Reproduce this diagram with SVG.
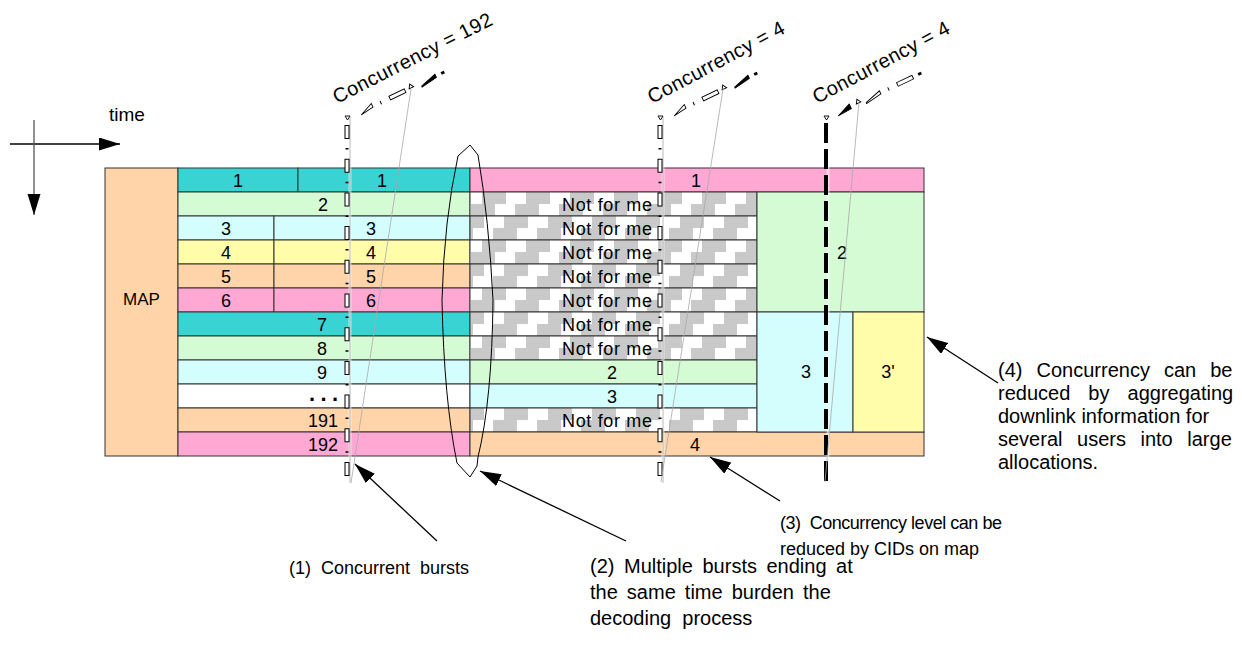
<svg xmlns="http://www.w3.org/2000/svg" width="1242" height="658" viewBox="0 0 1242 658">
<style>
text{font-family:"Liberation Sans",Arial,sans-serif;fill:#000}
.b{stroke:#333;stroke-width:1}
.cy{fill:#38D4D4}.gr{fill:#D5FBD5}.lc{fill:#D4FEFE}.ye{fill:#FFFCAA}.pe{fill:#FFD4A8}.pk{fill:#FFA8D4}.wh{fill:#fff}.ht{fill:url(#hatch)}
.n{font-size:18px;text-anchor:middle}
.nfm{font-size:18px;text-anchor:end}
.conc{font-size:20px}
.ann{font-size:18px}
.thin{stroke:#a8a8a8;stroke-width:0.8;fill:none}
.arr{stroke:#000;stroke-width:1.3;fill:none;marker-end:url(#ah)}
.hol{fill:#fff;stroke:#000;stroke-width:0.9}
.fil{fill:#000;stroke:#000;stroke-width:0.9}
</style>
<defs>
<pattern id="hatch" patternUnits="userSpaceOnUse" x="470" y="192" width="44" height="48">
<rect width="44" height="48" fill="#fff"/>
<rect x="12" y="0" width="24" height="12" fill="#C9C9C9"/>
<rect x="1" y="12" width="24" height="12" fill="#C9C9C9"/>
<rect x="34" y="24" width="10" height="12" fill="#C9C9C9"/>
<rect x="0" y="24" width="14" height="12" fill="#C9C9C9"/>
<rect x="23" y="36" width="21" height="12" fill="#C9C9C9"/>
<rect x="0" y="36" width="3" height="12" fill="#C9C9C9"/>
</pattern>
<marker id="ah" markerUnits="userSpaceOnUse" markerWidth="22" markerHeight="14" refX="21" refY="6.5" orient="auto">
<path d="M0,0 L21,6.5 L0,13 Z" fill="#000"/>
</marker>
<g id="vdec">
<line x1="350" y1="117" x2="350" y2="483" stroke="#fff" stroke-width="3" opacity="0.55"/>
<line x1="350" y1="117" x2="350" y2="483" class="thin"/>
<line x1="347" y1="125" x2="347" y2="480" stroke="#000" stroke-width="5" stroke-dasharray="14 19.7"/>
<line x1="347" y1="125" x2="347" y2="480" stroke="#fff" stroke-width="3" stroke-dasharray="12 21.7" stroke-dashoffset="-1"/>
<line x1="347" y1="125" x2="347" y2="480" stroke="#000" stroke-width="3" stroke-dasharray="1.5 32.2" stroke-dashoffset="-23"/>
<polygon points="345,116 350,116 347.5,120" class="hol"/>
</g>
<g id="ddecA">
<polygon points="11,3 25,-3 25,1" class="hol"/>
<line x1="34" y1="-1.5" x2="34" y2="2" stroke="#000" stroke-width="1"/>
<rect x="44" y="-2" width="17" height="4" class="hol"/>
<polygon points="65.5,0 70.5,0 68,-4" class="hol"/>
<polygon points="78,3 95,-2 95,1.5 78,4" class="fil"/>
<rect x="101" y="-1.5" width="3.5" height="3" fill="#000"/>
</g>
<g id="ddecB">
<polygon points="11,3 26,-3 26,2" class="fil"/>
<polygon points="32.5,0 37.5,0 35,-4" class="hol"/>
<polygon points="42,3 59,-2 59,1.5 42,4" class="hol"/>
<line x1="68" y1="-1.5" x2="68" y2="2" stroke="#000" stroke-width="1"/>
<rect x="78" y="-2" width="17" height="4" class="hol"/>
<rect x="101" y="-1.5" width="3.5" height="3" fill="#000"/>
</g>
</defs>
<rect width="1242" height="658" fill="#fff"/>

<g id="axes">
<line x1="10" y1="144" x2="120" y2="144" stroke="#000" stroke-width="1.3" marker-end="url(#ah)"/>
<line x1="34" y1="120" x2="34" y2="215" stroke="#555" stroke-width="1.3" marker-end="url(#ah)"/>
<text x="109" y="121" font-size="19">time</text>
</g>

<g id="map">
<rect x="105" y="168" width="73" height="288" class="pe b"/>
<text x="141.5" y="305" font-size="17" text-anchor="middle">MAP</text>
</g>

<g id="left-bursts">
<rect x="178" y="168" width="120" height="24" class="cy b"/><rect x="298" y="168" width="172" height="24" class="cy b"/>
<rect x="178" y="192" width="292" height="24" class="gr b"/>
<rect x="178" y="216" width="96" height="24" class="lc b"/><rect x="274" y="216" width="196" height="24" class="lc b"/>
<rect x="178" y="240" width="96" height="24" class="ye b"/><rect x="274" y="240" width="196" height="24" class="ye b"/>
<rect x="178" y="264" width="96" height="24" class="pe b"/><rect x="274" y="264" width="196" height="24" class="pe b"/>
<rect x="178" y="288" width="96" height="24" class="pk b"/><rect x="274" y="288" width="196" height="24" class="pk b"/>
<rect x="178" y="312" width="292" height="24" class="cy b"/>
<rect x="178" y="336" width="292" height="24" class="gr b"/>
<rect x="178" y="360" width="292" height="24" class="lc b"/>
<rect x="178" y="384" width="292" height="24" class="wh b"/>
<rect x="178" y="408" width="292" height="24" class="pe b"/>
<rect x="178" y="432" width="292" height="24" class="pk b"/>
<text class="n" x="238" y="187">1</text><text class="n" x="382" y="187">1</text>
<text class="n" x="323" y="211">2</text>
<text class="n" x="226" y="235">3</text><text class="n" x="371" y="235">3</text>
<text class="n" x="226" y="259">4</text><text class="n" x="371" y="259">4</text>
<text class="n" x="226" y="283">5</text><text class="n" x="371" y="283">5</text>
<text class="n" x="226" y="307">6</text><text class="n" x="371" y="307">6</text>
<text class="n" x="322" y="331">7</text>
<text class="n" x="322" y="355">8</text>
<text class="n" x="322" y="379">9</text>
<text x="309" y="401" font-size="22" font-weight="bold" textLength="29" lengthAdjust="spacing">...</text>
<text class="n" x="323" y="427">191</text>
<text class="n" x="323" y="451">192</text>
</g>

<g id="middle-bursts">
<rect x="470" y="168" width="454" height="24" class="pk b"/>
<rect x="470" y="192" width="287" height="24" class="ht b"/>
<rect x="470" y="216" width="287" height="24" class="ht b"/>
<rect x="470" y="240" width="287" height="24" class="ht b"/>
<rect x="470" y="264" width="287" height="24" class="ht b"/>
<rect x="470" y="288" width="287" height="24" class="ht b"/>
<rect x="470" y="312" width="287" height="24" class="ht b"/>
<rect x="470" y="336" width="287" height="24" class="ht b"/>
<rect x="470" y="360" width="287" height="24" class="gr b"/>
<rect x="470" y="384" width="287" height="24" class="lc b"/>
<rect x="470" y="408" width="287" height="24" class="ht b"/>
<rect x="470" y="432" width="454" height="24" class="pe b"/>
<text class="n" x="696" y="187">1</text>
<text class="nfm" x="652" y="211" textLength="90" lengthAdjust="spacing">Not for me</text>
<text class="nfm" x="652" y="235" textLength="90" lengthAdjust="spacing">Not for me</text>
<text class="nfm" x="652" y="259" textLength="90" lengthAdjust="spacing">Not for me</text>
<text class="nfm" x="652" y="283" textLength="90" lengthAdjust="spacing">Not for me</text>
<text class="nfm" x="652" y="307" textLength="90" lengthAdjust="spacing">Not for me</text>
<text class="nfm" x="652" y="331" textLength="90" lengthAdjust="spacing">Not for me</text>
<text class="nfm" x="652" y="355" textLength="90" lengthAdjust="spacing">Not for me</text>
<text class="n" x="612" y="379">2</text>
<text class="n" x="612" y="403">3</text>
<text class="nfm" x="652" y="427" textLength="90" lengthAdjust="spacing">Not for me</text>
<text class="n" x="695" y="451">4</text>
</g>

<g id="right-bursts">
<rect x="757" y="192" width="167" height="120" class="gr b"/>
<rect x="757" y="312" width="96" height="120" class="lc b"/>
<rect x="853" y="312" width="71" height="120" class="ye b"/>
<text class="n" x="842" y="259">2</text>
<text class="n" x="806" y="378">3</text>
<text class="n" x="888" y="378">3'</text>
</g>

<g id="lens">
<path d="M470,145 L478,155 Q489,220 493,300 Q492,400 478,457 L477,466 L470,477 L457,463 Q444,400 442,300 Q444,220 458,156 Z" fill="none" stroke="#000" stroke-width="1"/>
</g>

<g id="concurrency-192">
<use href="#vdec"/>
<use href="#ddecA" transform="translate(350,117) rotate(-25.5)"/>
<line x1="411" y1="89" x2="351" y2="483" class="thin"/>
<text class="conc" transform="translate(337,104) rotate(-27)" textLength="176" lengthAdjust="spacing">Concurrency = 192</text>
</g>

<g id="concurrency-4a">
<use href="#vdec" transform="translate(313,0)"/>
<use href="#ddecA" transform="translate(663,118) rotate(-25.5)"/>
<line x1="723" y1="89" x2="661" y2="482" class="thin"/>
<text class="conc" transform="translate(652,104) rotate(-28)" textLength="152" lengthAdjust="spacing">Concurrency = 4</text>
</g>

<g id="concurrency-4b">
<line x1="828" y1="117" x2="828" y2="482" stroke="#fff" stroke-width="3" opacity="0.55"/>
<line x1="826" y1="123" x2="826" y2="481" stroke="#000" stroke-width="4" stroke-dasharray="20 6"/>
<polygon points="824,116 829,116 826.5,120" class="hol"/>
<use href="#ddecB" transform="translate(827,118) rotate(-25.5)"/>
<line x1="859" y1="102" x2="825" y2="482" class="thin"/>
<text class="conc" transform="translate(817,104) rotate(-28)" textLength="152" lengthAdjust="spacing">Concurrency = 4</text>
</g>

<g id="connectors">
<line x1="437" y1="541" x2="355" y2="464" class="arr"/>
<line x1="626" y1="541" x2="480" y2="471" class="arr"/>
<line x1="780" y1="501" x2="710" y2="457" class="arr"/>
<line x1="998" y1="383" x2="927" y2="337" class="arr"/>
</g>

<g id="note-1">
<text class="ann" x="289" y="574" xml:space="preserve">(1)  Concurrent  bursts</text>
</g>
<g id="note-2">
<text x="590" y="573" font-size="20" word-spacing="4">(2) Multiple bursts ending at</text>
<text x="590" y="599" font-size="20" word-spacing="3.5">the same time burden the</text>
<text x="590" y="625" font-size="20" xml:space="preserve">decoding  process</text>
</g>
<g id="note-3">
<text x="780" y="529" font-size="18" textLength="222" lengthAdjust="spacing" xml:space="preserve">(3)  Concurrency level can be</text>
<text x="780" y="555" font-size="18">reduced by CIDs on map</text>
</g>
<g id="note-4">
<text x="998" y="377" font-size="20" word-spacing="8.5">(4) Concurrency can be</text>
<text x="998" y="400" font-size="20" word-spacing="12.5">reduced by aggregating</text>
<text x="998" y="423" font-size="20">downlink information for</text>
<text x="998" y="446" font-size="20" word-spacing="9">several users into large</text>
<text x="998" y="469" font-size="20">allocations.</text>
</g>
</svg>
